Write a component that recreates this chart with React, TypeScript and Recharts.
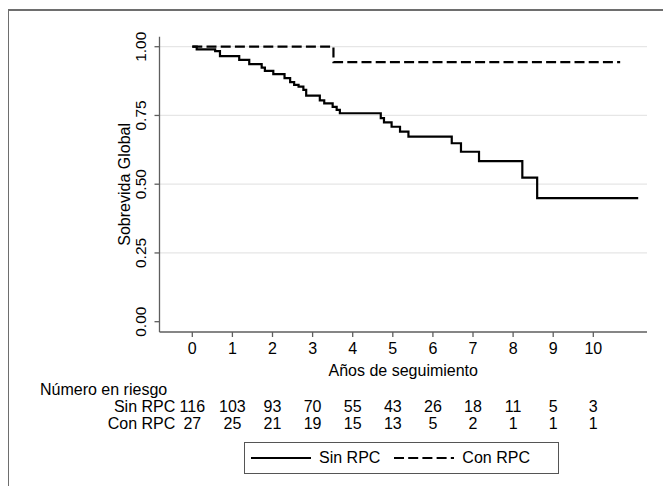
import React from 'react';
import { LineChart, Line, XAxis, YAxis, ReferenceLine, Legend, Label } from 'recharts';

// Kaplan-Meier steps
const sinTimes = [0, 0.11, 0.57, 0.69, 1.17, 1.42, 1.73, 1.81, 2.02, 2.3, 2.44, 2.54, 2.65, 2.77, 2.84, 3.18, 3.29, 3.5, 3.6, 3.68, 4.7, 4.78, 4.97, 5.18, 5.39, 6.47, 6.7, 7.15, 8.23, 8.6, 11.12];
const sinSurv = [1, 0.99, 0.984, 0.966, 0.952, 0.937, 0.924, 0.912, 0.9, 0.886, 0.871, 0.861, 0.855, 0.843, 0.822, 0.805, 0.794, 0.781, 0.77, 0.758, 0.74, 0.725, 0.709, 0.691, 0.673, 0.649, 0.618, 0.584, 0.524, 0.449, 0.449];
const conTimes = [0, 3.52, 10.67];
const conSurv = [1, 0.944, 0.944];

// numbers at risk
const yearTicks = [0, 1, 2, 3, 4, 5, 6, 7, 8, 9, 10];
const sinRisk = [116, 103, 93, 70, 55, 43, 26, 18, 11, 5, 3];
const conRisk = [27, 25, 21, 19, 15, 13, 5, 2, 1, 1, 1];
const survTicks = [0, 0.25, 0.5, 0.75, 1];
const gridValues = [0.25, 0.5, 0.75, 1];
const seriesOrder = ['Sin RPC', 'Con RPC'];

const sinData = sinTimes.map((t, i) => ({ t, s: sinSurv[i] }));
const conData = conTimes.map((t, i) => ({ t, s: conSurv[i] }));

const FONT = '"Liberation Sans", Arial, Helvetica, sans-serif';
const AXIS = '#5e5e5e';
const X_DOMAIN = [-0.818, 11.339];

const YTick = (props: any) => {
  const { y, payload } = props;
  const cx = 133;
  return (
    <text x={cx} y={y} transform={`rotate(-90 ${cx} ${y})`} textAnchor="middle" dominantBaseline="central" fontSize={15.5} fill="#000">
      {payload.value.toFixed(2)}
    </text>
  );
};

const riskTick = (counts: number[], rowName: string) => (props: any) => {
  const { x, y, payload, index } = props;
  const i = yearTicks.indexOf(payload.value);
  return (
    <g>
      {index === 0 && (
        <text x={x - 17} y={y} dy="0.71em" textAnchor="end" fontSize={16} fill="#000">{rowName}</text>
      )}
      <text x={x} y={y} dy="0.71em" textAnchor="middle" fontSize={16} fill="#000">{counts[i]}</text>
    </g>
  );
};

const renderLegend = (props: any) => {
  const items = [...props.payload].sort((a: any, b: any) => seriesOrder.indexOf(a.value) - seriesOrder.indexOf(b.value));
  return (
    <div style={{ boxSizing: 'border-box', width: 315, height: 32, border: '1px solid #555', display: 'flex', alignItems: 'center', paddingLeft: 6, fontSize: 16, fontFamily: FONT }}>
      {items.map((entry: any) => (
        <div key={entry.value} style={{ display: 'flex', alignItems: 'center', marginRight: 14 }}>
          <svg width={60} height={6} style={{ marginRight: 8 }}>
            <line x1={0} y1={3} x2={60} y2={3} stroke="#000" strokeWidth={2.2} strokeDasharray={entry.payload.strokeDasharray} />
          </svg>
          <span>{entry.value}</span>
        </div>
      ))}
    </div>
  );
};

export default function App() {
  return (
    <div style={{ position: 'relative', width: 663, height: 478, overflow: 'hidden', fontFamily: FONT }}>
      <div style={{ position: 'absolute', top: 1, left: 0, width: 720, height: 520, borderTop: '2px solid #6e6e6e', borderLeft: '1px solid #6e6e6e' }} />
      <div style={{ position: 'absolute', top: 0, left: 0 }}>
        <LineChart width={663} height={478} margin={{ top: 28.7, right: 24, left: 91.5, bottom: 48.5 }} style={{ fontFamily: FONT }}>
          <XAxis xAxisId="a_main" type="number" dataKey="t" domain={X_DOMAIN} ticks={yearTicks} allowDataOverflow
            height={69} tickSize={5} tickMargin={6} stroke={AXIS} strokeWidth={1.3} tick={{ fill: '#000', fontSize: 16 }} interval={0}>
            <Label content={(p: any) => (
              <text x={p.viewBox.x + p.viewBox.width / 2} y={p.viewBox.y + 43.7} textAnchor="middle" fontSize={16} fill="#000">Años de seguimiento</text>
            )} />
          </XAxis>
          <XAxis xAxisId="b_sin" type="number" dataKey="t" domain={X_DOMAIN} ticks={yearTicks} allowDataOverflow
            height={16.5} axisLine={false} tickLine={false} tickSize={0} tickMargin={0} tick={riskTick(sinRisk, 'Sin RPC')} interval={0}>
            <Label content={(p: any) => (
              <text x={32} y={p.viewBox.y - 6.3} textAnchor="start" fontSize={16} fill="#000">Número en riesgo</text>
            )} />
          </XAxis>
          <XAxis xAxisId="c_con" type="number" dataKey="t" domain={X_DOMAIN} ticks={yearTicks} allowDataOverflow
            height={20} axisLine={false} tickLine={false} tickSize={0} tickMargin={0} tick={riskTick(conRisk, 'Con RPC')} interval={0} />
          <YAxis type="number" domain={[-0.0375, 1.0364]} ticks={survTicks} allowDataOverflow width={60}
            tickSize={5} stroke={AXIS} strokeWidth={1.3} tick={<YTick />} interval={0}>
            <Label content={(p: any) => {
              const cy = p.viewBox.y + p.viewBox.height / 2;
              return (
                <text x={117} y={cy} transform={`rotate(-90 117 ${cy})`} textAnchor="middle" dominantBaseline="central" fontSize={16} fill="#000">Sobrevida Global</text>
              );
            }} />
          </YAxis>
          {gridValues.map(v => (
            <ReferenceLine key={v} xAxisId="a_main" y={v} stroke="#e6e6e6" strokeWidth={1.2} />
          ))}
          <Line xAxisId="a_main" data={sinData} dataKey="s" name="Sin RPC" type="stepAfter" stroke="#000" strokeWidth={2.2} dot={false} activeDot={false} isAnimationActive={false} />
          <Line xAxisId="a_main" data={conData} dataKey="s" name="Con RPC" type="stepAfter" stroke="#000" strokeWidth={2.2} strokeDasharray="10 4.2" dot={false} activeDot={false} isAnimationActive={false} />
          <Legend layout="horizontal" verticalAlign="middle" align="center" content={renderLegend}
            wrapperStyle={{ position: 'absolute', left: 236, top: 433.7, width: 315, height: 32 }} />
        </LineChart>
      </div>
    </div>
  );
}
